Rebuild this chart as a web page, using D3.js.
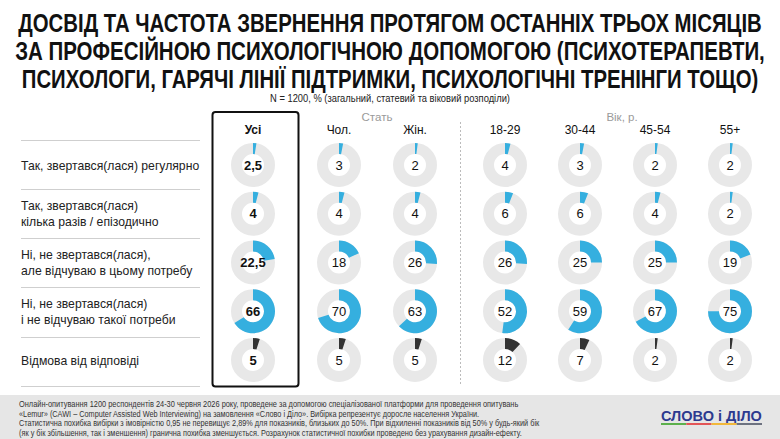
<!DOCTYPE html>
<html><head><meta charset="utf-8">
<script src="https://cdn.jsdelivr.net/npm/d3@7"></script>
<style>
html,body{margin:0;padding:0;background:#fff;}
svg{display:block;}
</style></head>
<body><svg id="c" width="780" height="439"></svg>
<script>
const columns = ["Усі","Чол.","Жін.","18-29","30-44","45-54","55+"];
const groups = ["Стать","Вік, р."];
const rowLabels = [
  ["Так, звертався(лася) регулярно"],
  ["Так, звертався(лася)","кілька разів / епізодично"],
  ["Ні, не звертався(лася),","але відчуваю в цьому потребу"],
  ["Ні, не звертався(лася)","і не відчуваю такої потреби"],
  ["Відмова від відповіді"]
];
const regularly   = [2.5, 3, 2, 4, 3, 2, 2];
const episodic    = [4, 4, 4, 6, 6, 4, 2];
const needButNot  = [22.5, 18, 26, 26, 25, 25, 19];
const noNeed      = [66, 70, 63, 52, 59, 67, 75];
const refused     = [5, 5, 5, 12, 7, 2, 2];
const rows = [regularly, episodic, needButNot, noNeed, refused];

const titleLines = [
  "ДОСВІД ТА ЧАСТОТА ЗВЕРНЕННЯ ПРОТЯГОМ ОСТАННІХ ТРЬОХ МІСЯЦІВ",
  "ЗА ПРОФЕСІЙНОЮ ПСИХОЛОГІЧНОЮ ДОПОМОГОЮ (ПСИХОТЕРАПЕВТИ,",
  "ПСИХОЛОГИ, ГАРЯЧІ ЛІНІЇ ПІДТРИМКИ, ПСИХОЛОГІЧНІ ТРЕНІНГИ ТОЩО)"
];
const subtitle = "N = 1200, % (загальний, статевий та віковий розподіли)";
const footerLines = [
  "Онлайн-опитування 1200 респондентів 24-30 червня 2026 року, проведене за допомогою спеціалізованої платформи для проведення опитувань",
  "«Lemur» (CAWI – Computer Assisted Web Interviewing) на замовлення «Слово і Діло». Вибірка репрезентує доросле населення України.",
  "Статистична похибка вибірки з імовірністю 0,95 не перевищує 2,89% для показників, близьких до 50%. При відхиленні показників від 50% у будь-який бік",
  "(як у бік збільшення, так і зменшення) гранична похибка зменшується. Розрахунок статистичної похибки проведено без урахування дизайн-ефекту."
];

const svg = d3.select("#c");
const narrow = "'Liberation Sans Narrow','Arial Narrow','Liberation Sans',Arial,sans-serif";
const sans = "'Liberation Sans',Arial,Helvetica,sans-serif";

// helper: place text horizontally scaled to a target width
function fitText(parent, str, x, y, width, anchor, attrs){
  const g = parent.append("g");
  const t = g.append("text").attr("x",0).attr("y",0).attr("text-anchor",anchor).text(str);
  Object.entries(attrs).forEach(([k,v])=>t.attr(k,v));
  const w = t.node().getComputedTextLength();
  const k = width / w;
  g.attr("transform",`translate(${x},${y}) scale(${k},1)`);
  return t;
}

// Title
const titleW = [744, 750, 737];
const tg = svg.append("g");
titleLines.forEach((ln,i)=>fitText(tg, ln, 390, 32 + i*28, titleW[i], "middle",
  {"font-family":narrow,"font-weight":"bold","font-size":25,"fill":"#111"}));
fitText(svg, subtitle, 390, 102, 240, "middle",
  {"font-family":narrow,"font-size":10.5,"fill":"#222"});

// Scales
const x = d3.scaleOrdinal().domain(columns).range([253, 339, 415, 505, 580, 655, 730]);
const y = d3.scalePoint().domain(d3.range(rows.length)).range([165, 360]);
const angle = d3.scaleLinear().domain([0,100]).range([0, 2*Math.PI]);
const rOuter = 22, rInner = 11;
const arc = d3.arc().innerRadius(rInner).outerRadius(rOuter);

// Separators for row labels
const sepY = [140, 189, 238, 287, 337, 386];
svg.append("g").selectAll("line").data(sepY).join("line")
  .attr("x1",21).attr("x2",200).attr("y1",d=>d+0.5).attr("y2",d=>d+0.5)
  .attr("stroke","#cfcfcf").attr("stroke-width",1);

// Row labels
const lab = svg.append("g");
rowLabels.forEach((lines,i)=>{
  const cy = y(i);
  const t = lab.append("text").attr("font-family",sans).attr("font-size",12.2).attr("fill","#222");
  lines.forEach((ln,j)=>{
    t.append("tspan").attr("x",21)
      .attr("y", cy + 4.5 + (j - (lines.length-1)/2)*16)
      .text(ln);
  });
});

// Highlight box for Усі
svg.append("rect").attr("x",212.5).attr("y",112).attr("width",86).attr("height",274.5)
  .attr("rx",3).attr("fill","none").attr("stroke","#111").attr("stroke-width",2);

// Dashed separator between gender and age
svg.append("line").attr("x1",460.5).attr("x2",460.5).attr("y1",122).attr("y2",386)
  .attr("stroke","#bbb").attr("stroke-width",1).attr("stroke-dasharray","2,2");

// Group labels
const groupX = [377, 622];
svg.append("g").selectAll("text").data(groups).join("text")
  .attr("x",(d,i)=>groupX[i]).attr("y",121).attr("text-anchor","middle")
  .attr("font-family",sans).attr("font-size",11.5).attr("fill","#9a9a9a").text(d=>d);

// Column headers
svg.append("g").selectAll("text").data(columns).join("text")
  .attr("x",d=>x(d)).attr("y",134).attr("text-anchor","middle")
  .attr("font-family",sans).attr("font-size",12)
  .attr("font-weight",(d,i)=>i===0?"bold":"normal")
  .attr("fill","#111").text(d=>d);

// Donuts
const fmt = v => String(v).replace(".", ",");
rows.forEach((vals,ri)=>{
  const color = ri === rows.length-1 ? "#333333" : "#35afdf";
  const g = svg.append("g");
  const cells = g.selectAll("g").data(columns.map((c,ci)=>({c, v: vals[ci], ci}))).join("g")
    .attr("transform", d=>`translate(${x(d.c)},${y(ri)})`);
  cells.append("circle").attr("r",(rOuter+rInner)/2).attr("fill","none")
    .attr("stroke","#e8e8e8").attr("stroke-width",rOuter-rInner);
  cells.append("path").attr("d", d=>arc({startAngle:0, endAngle: angle(d.v)})).attr("fill",color);
  cells.append("text").attr("y",4.5).attr("text-anchor","middle")
    .attr("font-family",sans).attr("font-size",13)
    .attr("font-weight",d=>d.ci===0?"bold":"normal")
    .attr("fill","#111").text(d=>fmt(d.v));
});

// Footer
svg.append("rect").attr("x",0).attr("y",395).attr("width",780).attr("height",44).attr("fill","#e6e6e6");
const footW = [500, 461, 521, 503];
const fg = svg.append("g");
footerLines.forEach((ln,i)=>fitText(fg, ln, 19, 407 + i*9.5, footW[i], "start",
  {"font-family":narrow,"font-size":8.8,"fill":"#333"}));

// Logo
fitText(svg, "СЛОВО і ДІЛО", 661, 421, 101, "start",
  {"font-family":sans,"font-weight":"bold","font-size":15.5,"fill":"#2d3a8f"});
const logoColors = ["#5cb04c","#e35557","#f2b83a","#6d7280"];
svg.append("g").selectAll("rect").data(logoColors).join("rect")
  .attr("x",(d,i)=>661 + i*25.25).attr("y",423).attr("width",25.25).attr("height",2)
  .attr("fill",d=>d);
</script>
</body></html>
